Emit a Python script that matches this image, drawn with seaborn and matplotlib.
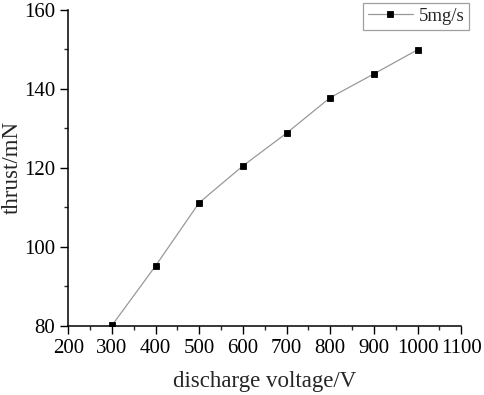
import matplotlib
matplotlib.use("Agg")
import matplotlib.pyplot as plt
import seaborn as sns
import pandas as pd
from matplotlib.ticker import MultipleLocator

# -------------------- Data --------------------

voltage = [300, 400, 500, 600, 700, 800, 900, 1000]
thrust = [80.1, 95.2, 111.2, 120.5, 128.8, 137.8, 143.8, 149.9]
series_label = "5mg/s"

df = pd.DataFrame({"voltage": voltage, "thrust": thrust, "flow": series_label})

# -------------------- Plotting --------------------

sns.set_style("ticks")
plt.rcParams["font.family"] = ["Liberation Serif", "DejaVu Serif"]

fig = plt.figure(figsize=(4.84, 3.95), dpi=100)
ax = fig.add_axes([0.141, 0.175, 0.812, 0.80])

sns.lineplot(data=df, x="voltage", y="thrust", hue="flow", palette=["#999999"],
             marker="s", markersize=5, markerfacecolor="black",
             markeredgecolor="black", markeredgewidth=0.6, linewidth=0.9, ax=ax)

ax.set_xlim(200, 1100)
ax.set_ylim(80, 160)
ax.xaxis.set_major_locator(MultipleLocator(100))
ax.xaxis.set_minor_locator(MultipleLocator(50))
ax.yaxis.set_major_locator(MultipleLocator(20))
ax.yaxis.set_minor_locator(MultipleLocator(10))
ax.tick_params(which="major", direction="out", length=5.5, width=1, labelsize=15,
               colors="black", pad=4)
ax.tick_params(which="minor", direction="out", length=3, width=1)
for side in ["top", "right"]:
    ax.spines[side].set_visible(False)
for side in ["left", "bottom"]:
    ax.spines[side].set_linewidth(1.1)
    ax.spines[side].set_color("black")

ax.set_xlabel("discharge voltage/V", fontsize=16.5, labelpad=9)
ax.set_ylabel("thrust/mN", fontsize=16.5, labelpad=1)

leg = ax.legend(loc="upper right", bbox_to_anchor=(0.969, 0.992),
                bbox_transform=fig.transFigure, fontsize=13.5,
                frameon=True, fancybox=False, handlelength=2.4,
                borderpad=0.25, handletextpad=0.3, borderaxespad=0)
leg.set_title(None)
leg.get_frame().set_edgecolor("#888888")
leg.get_frame().set_linewidth(0.9)

plt.savefig("out.png", dpi=100)
